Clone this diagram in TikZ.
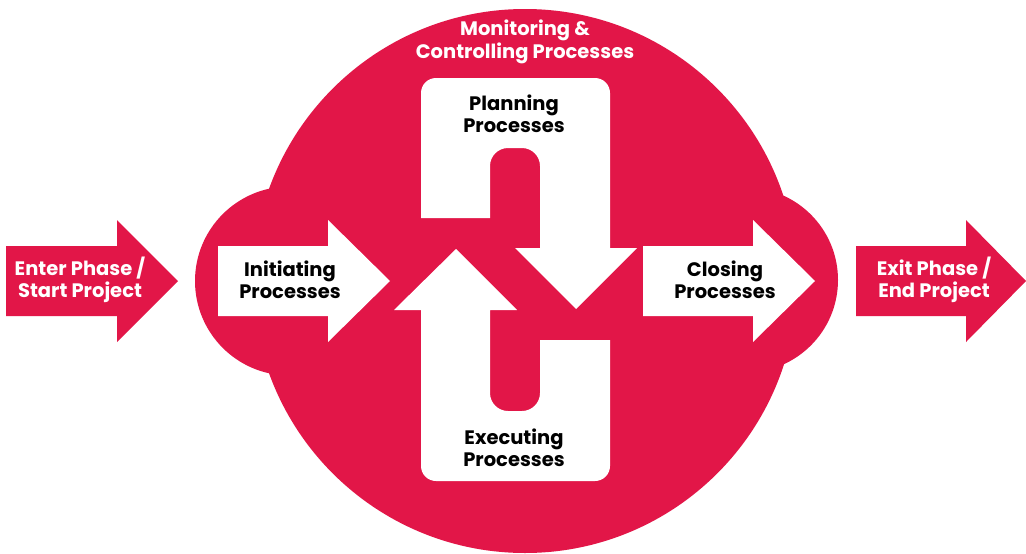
\documentclass[tikz,border=0pt]{standalone}
\usepackage{fontspec}
\setmainfont{Poppins}
\definecolor{crimson}{RGB}{226,22,72}
\tikzset{
  lbl/.style={font=\bfseries\fontsize{19.5}{22.5}\selectfont, align=center, inner sep=0pt},
  darklbl/.style={lbl, text=black},
  lightlbl/.style={lbl, text=white},
}
\begin{document}
\begin{tikzpicture}[x=1pt, y=-1pt]
  % canvas
  \fill[white] (0,0) rectangle (1026,554);
  \useasboundingbox (0,0) rectangle (1026,554);

  % red body: big circle with two side lobes
  \fill[crimson] (525,281) circle[radius=272];
  \fill[crimson] (289.5,281) circle[radius=94.5];
  \fill[crimson] (745.5,280) circle[radius=92.5];

  % outer arrows
  \fill[crimson] (6,246) -- (117,246) -- (117,220) -- (178,281) -- (117,342) -- (117,316) -- (6,316) -- cycle;
  \fill[crimson] (856,246) -- (966,246) -- (966,220) -- (1026,281) -- (966,342) -- (966,316) -- (856,316) -- cycle;

  % inner right arrows
  \fill[white] (218,246) -- (328,246) -- (328,220) -- (390,281) -- (328,342) -- (328,316) -- (218,316) -- cycle;
  \fill[white] (643,246) -- (753,246) -- (753,220) -- (815,281) -- (753,342) -- (753,316) -- (643,316) -- cycle;

  % planning: inverted U turning down
  \fill[white] (421,218) -- (421,93) arc[start angle=180, end angle=270, radius=15]
    -- (595,78) arc[start angle=270, end angle=360, radius=15]
    -- (610,248) -- (637,248) -- (576,309) -- (515,248) -- (540,248)
    -- (540,166) arc[start angle=0, end angle=-90, radius=18]
    -- (508,148) arc[start angle=-90, end angle=-180, radius=18]
    -- (490,218) -- cycle;

  % executing: U turning up
  \fill[white] (456,249) -- (517,310) -- (490,310)
    -- (490,393) arc[start angle=180, end angle=90, radius=18]
    -- (522,411) arc[start angle=90, end angle=0, radius=18]
    -- (540,340) -- (610,340)
    -- (610,466) arc[start angle=0, end angle=90, radius=15]
    -- (436,481) arc[start angle=90, end angle=180, radius=15]
    -- (421,310) -- (394,310) -- cycle;

  % labels
  \node[lightlbl] (monitor) at (525,42) {Monitoring \&\\Controlling Processes};
  \node[darklbl] (plan) at (514,114) {Planning\\Processes};
  \node[darklbl] (exec) at (514,448) {Executing\\Processes};
  \node[darklbl] (init) at (290,280) {Initiating\\Processes};
  \node[darklbl] (close) at (725,280) {Closing\\Processes};
  \node[lightlbl] (enter) at (80,280) {Enter Phase /\\Start Project};
  \node[lightlbl] (exit) at (934,280) {Exit Phase /\\End Project};
\end{tikzpicture}
\end{document}
